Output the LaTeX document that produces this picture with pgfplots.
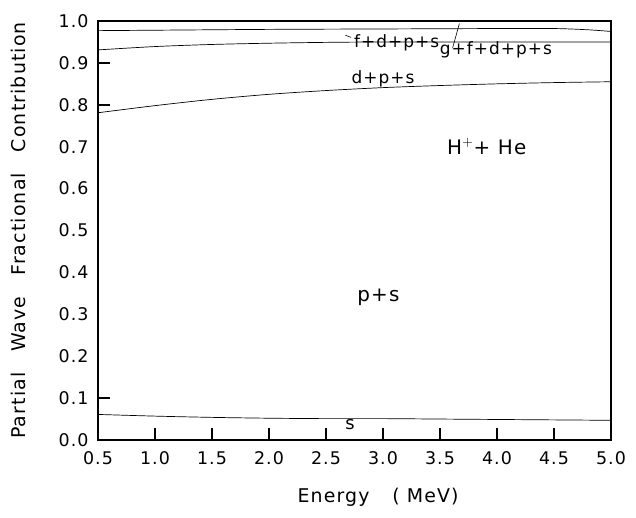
\documentclass[border=0pt]{standalone}
\usepackage{fontspec}
\setmainfont[LetterSpace=6]{DejaVu Sans}
\usepackage{pgfplots}
\pgfplotsset{compat=1.18}

\begin{document}
\begin{tikzpicture}
\path[use as bounding box] (-98bp,-78bp) rectangle (538bp,440bp);
\begin{axis}[
    scale only axis,
    width=513bp, height=419bp,
    xmin=0.5, xmax=5.0,
    ymin=0, ymax=1.0,
    xtick={0.5,1.0,...,5.0},
    xticklabels={0.5,1.0,1.5,2.0,2.5,3.0,3.5,4.0,4.5,5.0},
    ytick={0.1,0.8,0.9},
    yticklabels={0.1,0.8,0.9},
    extra y ticks={0,0.2,0.3,0.4,0.5,0.6,0.7,1.0},
    extra y tick labels={0.0,0.2,0.3,0.4,0.5,0.6,0.7,1.0},
    extra y tick style={major tick length=0pt},
    tick pos=left,
    tick align=inside,
    major tick length=12bp,
    tick style={black, line width=1.8pt},
    axis line style={line width=1.6pt},
    /pgf/number format/assume math mode=true,
    tick label style={font=\fontsize{17.5}{20}\selectfont},
    xticklabel style={yshift=-8bp},
    yticklabel style={xshift=-6bp},
    xlabel={Energy\hspace{1.2em}( MeV)},
    ylabel={Partial\hspace{1.1em}Wave\hspace{1.1em}Fractional\hspace{1.1em}Contribution},
    label style={font=\fontsize{19}{22}\selectfont},
    xlabel style={at={(axis description cs:0.546,-0.136)}, anchor=center},
    ylabel style={at={(axis description cs:-0.155,0.5)}, anchor=center},
    clip=false,
]
% s
\addplot[black, line width=0.7pt, smooth] coordinates {
    (0.5,0.061) (1.0,0.057) (1.5,0.054) (2.0,0.052) (2.5,0.051)
    (3.0,0.051) (3.5,0.050) (4.0,0.049) (4.5,0.048) (5.0,0.047)
};
% d+p+s
\addplot[black, line width=0.7pt, smooth] coordinates {
    (0.5,0.781) (1.0,0.798) (1.5,0.813) (2.0,0.825) (2.5,0.834)
    (3.0,0.841) (3.5,0.846) (4.0,0.850) (4.5,0.853) (5.0,0.855)
};
% f+d+p+s
\addplot[black, line width=0.7pt, smooth] coordinates {
    (0.5,0.931) (1.0,0.939) (1.5,0.944) (2.0,0.947) (2.5,0.949)
    (3.0,0.950) (3.5,0.950) (4.0,0.950) (4.5,0.950) (5.0,0.950)
};
% g+f+d+p+s
\addplot[black, line width=0.7pt, smooth] coordinates {
    (0.5,0.977) (1.0,0.978) (2.0,0.980) (3.0,0.981) (4.0,0.982)
    (4.5,0.982) (4.8,0.979) (5.0,0.975)
};
\node[font=\fontsize{17}{20}\selectfont] at (axis cs:3.12,0.947) {f+d+p+s};
\draw[line width=0.6pt] (axis cs:2.67,0.966) -- (axis cs:2.72,0.961);
\node[font=\fontsize{17}{20}\selectfont] at (axis cs:3.99,0.930) {g+f+d+p+s};
\draw[line width=0.6pt] (axis cs:3.67,0.994) -- (axis cs:3.61,0.935);
\node[font=\fontsize{17}{20}\selectfont] at (axis cs:3.0,0.862) {d+p+s};
\node[font=\fontsize{20}{23}\selectfont] at (axis cs:3.91,0.70) {H$^{+}$+ He};
\node[font=\fontsize{20}{23}\selectfont] at (axis cs:2.96,0.34) {p+s};
\node[font=\fontsize{18}{20}\selectfont] at (axis cs:2.71,0.036) {s};
\end{axis}
\end{tikzpicture}
\end{document}
